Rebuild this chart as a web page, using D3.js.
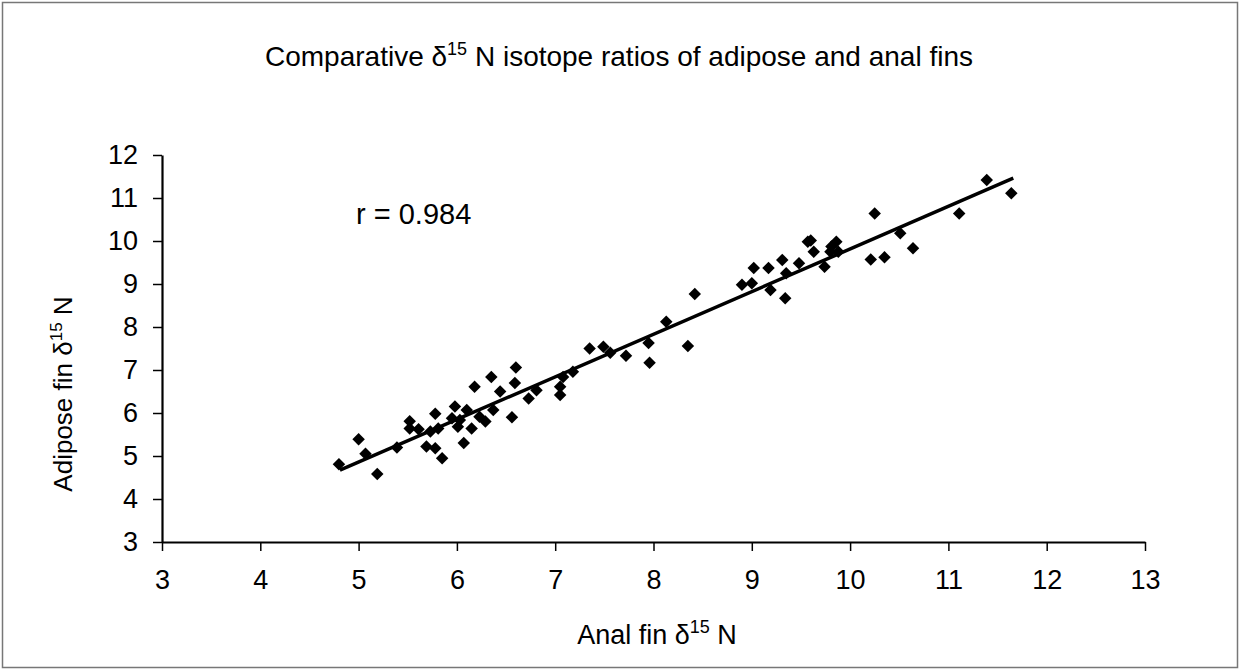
<!DOCTYPE html>
<html>
<head>
<meta charset="utf-8">
<script src="https://cdn.jsdelivr.net/npm/d3@7"></script>
<style>
  html, body { margin: 0; padding: 0; background: #fff; }
  svg { display: block; }
  text { font-family: "Liberation Sans", Arial, sans-serif; fill: #000; }
</style>
</head>
<body>
<script>
// ---- data ----
const analFin = [4.80, 5.00, 5.19, 5.07, 5.39, 5.52, 5.52, 5.61, 5.78, 5.69, 5.78, 5.85, 5.73, 5.81,
  5.98, 5.95, 6.03, 6.10, 6.07, 6.15, 6.01, 6.18, 6.23, 6.29, 6.37, 6.35, 6.44, 6.56, 6.60, 6.59,
  6.73, 6.81, 7.05, 7.05, 7.08, 7.18, 7.35, 7.49, 7.56, 7.72, 7.95, 7.96, 8.13, 8.35, 8.42,
  8.90, 9.00, 9.02, 9.17, 9.19, 9.31, 9.34, 9.35, 9.48, 9.57, 9.60, 9.63, 9.74, 9.81, 9.86, 9.88,
  9.80, 10.25, 10.21, 10.35, 10.51, 10.64, 11.11, 11.39, 11.64];
const adiposeFin = [4.81, 5.39, 4.58, 5.05, 5.20, 5.81, 5.64, 5.62, 5.98, 5.22, 5.18, 4.95, 5.57, 5.64,
  6.15, 5.88, 5.84, 6.07, 5.30, 5.64, 5.68, 6.61, 5.91, 5.80, 6.07, 6.84, 6.50, 5.90, 7.06, 6.70,
  6.34, 6.53, 6.61, 6.42, 6.84, 6.96, 7.50, 7.54, 7.40, 7.33, 7.63, 7.17, 8.12, 7.56, 8.77,
  8.98, 9.02, 9.37, 9.37, 8.86, 9.56, 8.67, 9.25, 9.48, 9.98, 10.01, 9.75, 9.40, 9.87, 9.98, 9.75,
  9.75, 10.64, 9.57, 9.62, 10.18, 9.83, 10.64, 11.42, 11.11];
const trendX = [4.81, 11.66];
const trendY = [4.67, 11.46];
const xTicks = [3, 4, 5, 6, 7, 8, 9, 10, 11, 12, 13];
const yTicks = [3, 4, 5, 6, 7, 8, 9, 10, 11, 12];
const annotation = "r = 0.984";

// ---- layout ----
const W = 1240, H = 672;
const svg = d3.select("body").append("svg").attr("width", W).attr("height", H);

svg.append("rect").attr("x", 2.5).attr("y", 2.5).attr("width", W - 5).attr("height", H - 7)
  .attr("fill", "#fff").attr("stroke", "#777").attr("stroke-width", 1.5);

const x = d3.scaleLinear().domain([3, 13]).range([162, 1145]);
const y = d3.scaleLinear().domain([3, 12]).range([542, 155]);

// axes
const xAxis = svg.append("g").attr("transform", `translate(0,${y(3)})`)
  .call(d3.axisBottom(x).tickValues(xTicks).tickSize(9).tickPadding(19).tickSizeOuter(0));
const yAxis = svg.append("g").attr("transform", `translate(${x(3)},0)`)
  .call(d3.axisLeft(y).tickValues(yTicks).tickSize(9).tickPadding(15).tickSizeOuter(0));
[xAxis, yAxis].forEach(a => {
  a.select(".domain").attr("stroke", "#000").attr("stroke-width", 2.2);
  a.selectAll(".tick line").attr("stroke", "#000").attr("stroke-width", 1.5);
  a.selectAll(".tick text").attr("font-size", 27).attr("fill", "#000")
    .attr("font-family", "Liberation Sans, Arial, sans-serif");
});

// trend line
svg.append("path")
  .datum(trendX.map((v, i) => [v, trendY[i]]))
  .attr("d", d3.line().x(d => x(d[0])).y(d => y(d[1])))
  .attr("fill", "none").attr("stroke", "#000").attr("stroke-width", 3.5);

// points
const sym = d3.symbol().type(d3.symbolSquare).size(78);
svg.append("g").selectAll("path").data(analFin.map((v, i) => [v, adiposeFin[i]]))
  .join("path")
  .attr("d", sym)
  .attr("transform", d => `translate(${x(d[0])},${y(d[1])}) rotate(45)`)
  .attr("fill", "#000");

// annotation
svg.append("text").attr("x", 356).attr("y", 224).attr("font-size", 29).text(annotation);

// title
const t = svg.append("text").attr("x", 619).attr("y", 66).attr("text-anchor", "middle").attr("font-size", 28);
t.append("tspan").text("Comparative δ");
t.append("tspan").attr("font-size", 18).attr("dy", -11).text("15");
t.append("tspan").attr("dy", 11).text(" N isotope ratios of adipose and anal fins");

// x label
const xl = svg.append("text").attr("x", 657).attr("y", 644).attr("text-anchor", "middle").attr("font-size", 27);
xl.append("tspan").text("Anal fin δ");
xl.append("tspan").attr("font-size", 18).attr("dy", -11).text("15");
xl.append("tspan").attr("dy", 11).text(" N");

// y label
const yl = svg.append("text").attr("transform", "translate(72,394) rotate(-90)")
  .attr("text-anchor", "middle").attr("font-size", 26);
yl.append("tspan").text("Adipose fin δ");
yl.append("tspan").attr("font-size", 17).attr("dy", -10).text("15");
yl.append("tspan").attr("dy", 10).text(" N");
</script>
</body>
</html>
